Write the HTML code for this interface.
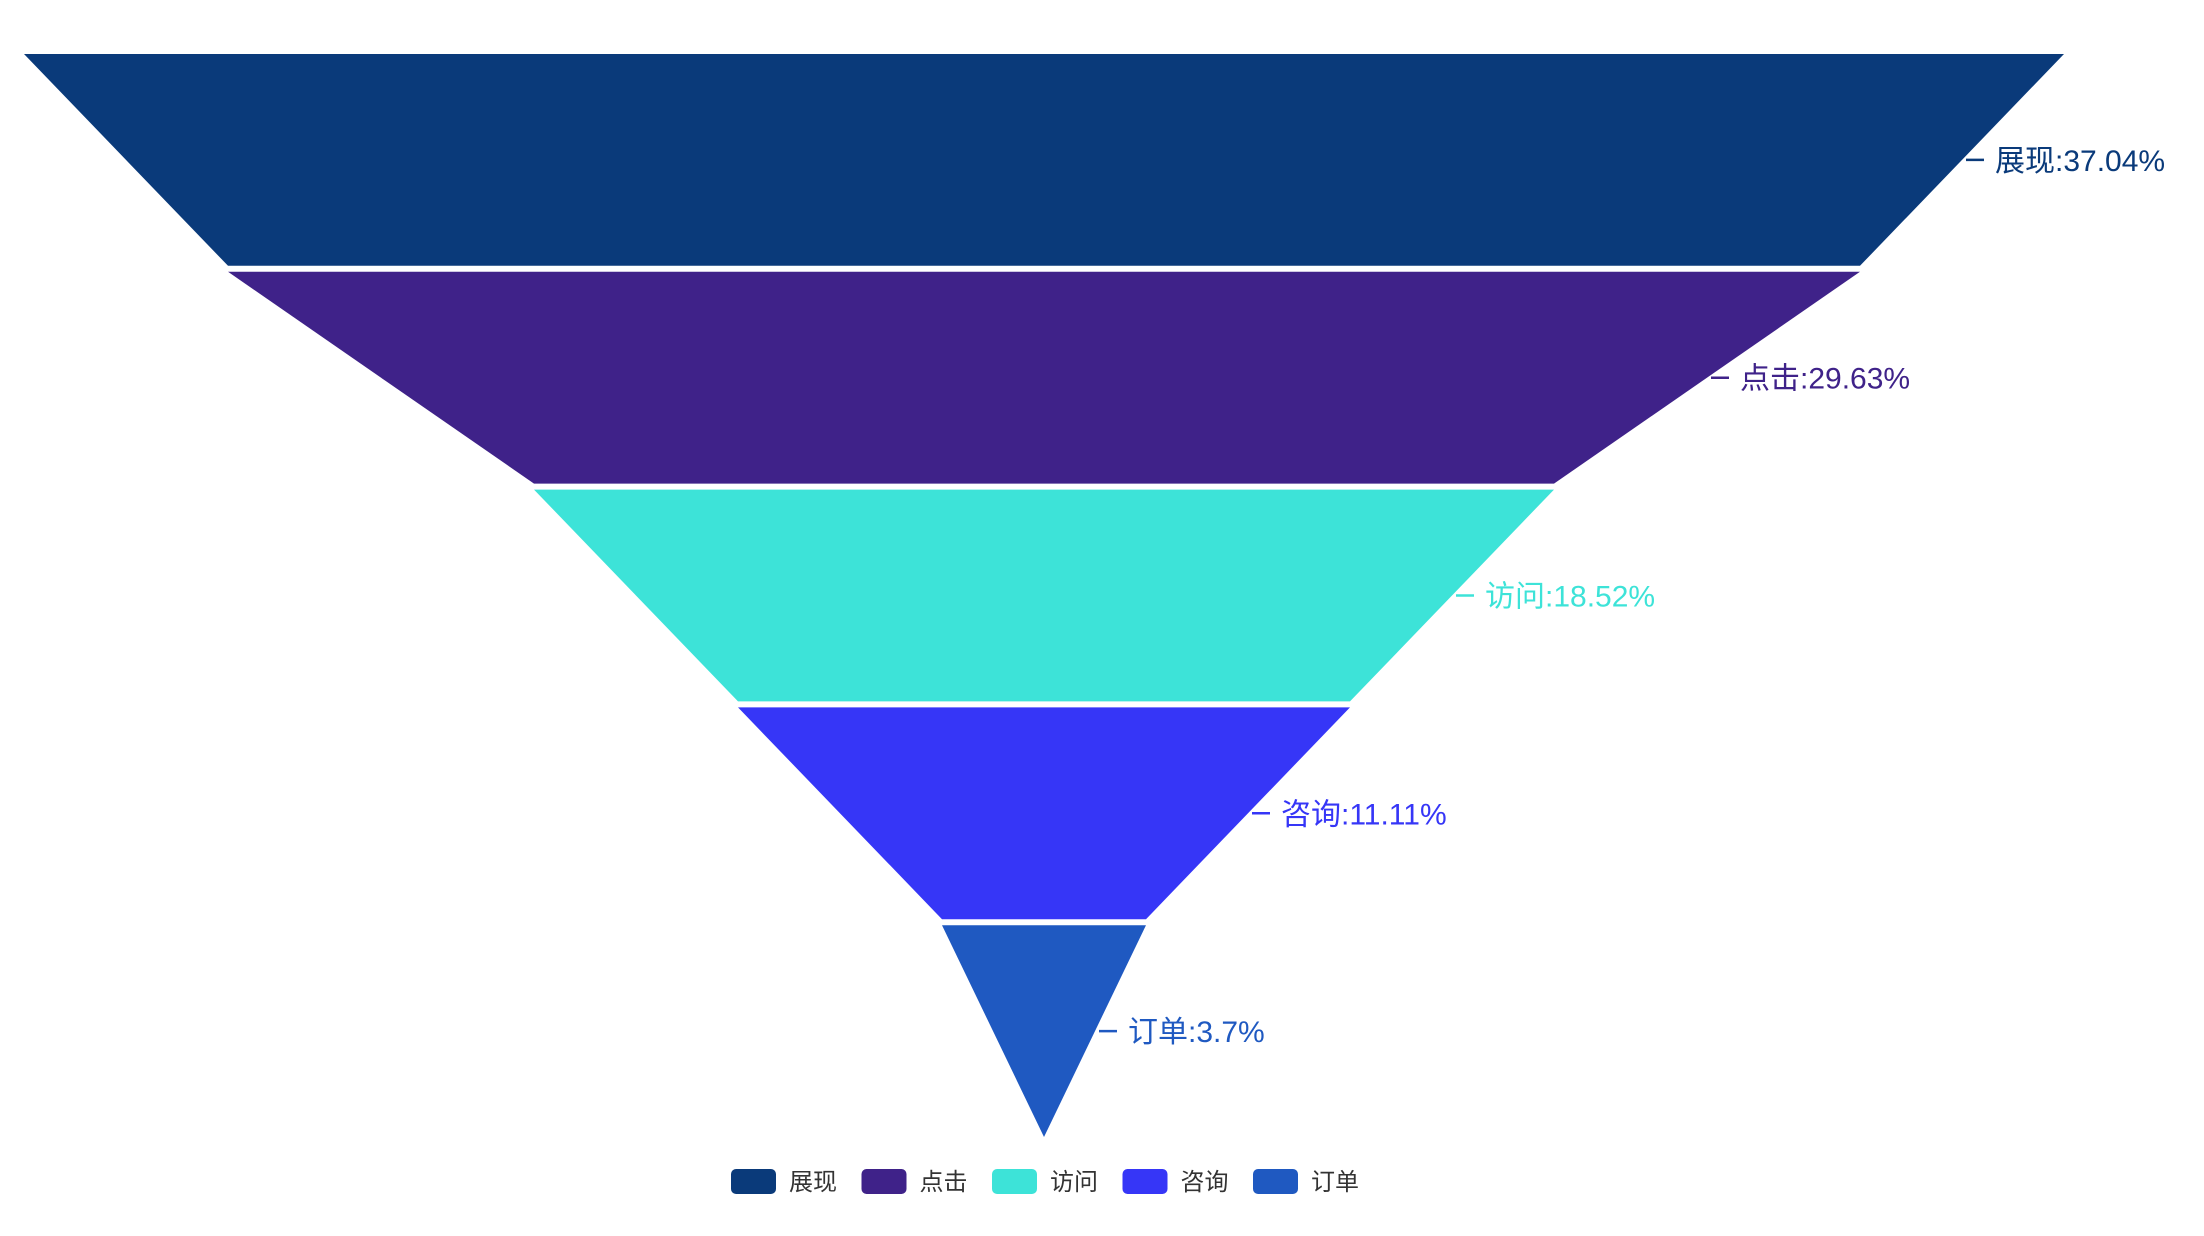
<!DOCTYPE html>
<html><head><meta charset="utf-8"><style>
html,body{margin:0;padding:0;background:#fff;width:2204px;height:1236px;overflow:hidden}
svg{display:block}
text{font-family:"Liberation Sans","Noto Sans CJK SC",sans-serif}
</style></head><body>
<svg id="chart" width="2204" height="1236" xmlns="http://www.w3.org/2000/svg"></svg>
<script>
const categories = ['展现','点击','访问','咨询','订单'];
const values = [10, 8, 5, 3, 1];
const colors = ['#0a3a7a','#3f2289','#3de3d8','#3636f7','#1f59c1'];

const NS = 'http://www.w3.org/2000/svg';
const svg = document.getElementById('chart');
const cx = 1044, fullW = 2040, top0 = 51, step = 217.8, gap = 3;
const maxV = Math.max(...values), minV = 0;
const total = values.reduce((a,b)=>a+b,0);
function wOf(v){ return (v - minV)/(maxV - minV) * fullW; }
function mk(tag, attrs){ const e = document.createElementNS(NS, tag); for (const k in attrs) e.setAttribute(k, attrs[k]); svg.appendChild(e); return e; }

values.forEach((v,i)=>{
  const y1 = top0 + i*step + gap, y2 = top0 + (i+1)*step - gap;
  const w1 = wOf(v), w2 = i < values.length-1 ? wOf(values[i+1]) : 0;
  const p = mk('polygon', {points: `${cx-w1/2},${y1} ${cx+w1/2},${y1} ${cx+w2/2},${y2} ${cx-w2/2},${y2}`, fill: colors[i]});
  
  
  const ym = (y1+y2)/2, xe = cx + (w1+w2)/4;
  const ln = mk('line', {x1: xe+4, y1: ym, x2: xe+22, y2: ym, stroke: colors[i], 'stroke-width': 2.5});
  
  
  const pct = Math.round(v/total*10000)/100;
  const t = mk('text', {x: xe+33, y: ym+11, fill: colors[i], 'font-size': 30});
  t.textContent = categories[i] + ':' + pct + '%';
  
  
});

const lx0 = 731, lstep = 130.5, ly = 1169;
categories.forEach((c,i)=>{
  const x = lx0 + i*lstep;
  const r = mk('rect', {x: x, y: ly, width: 45, height: 25, rx: 5, fill: colors[i]});
  
  
  const t = mk('text', {x: x+58, y: ly+21, fill: '#333', 'font-size': 24});
  t.textContent = c;
  
  
});
</script>
</body></html>
